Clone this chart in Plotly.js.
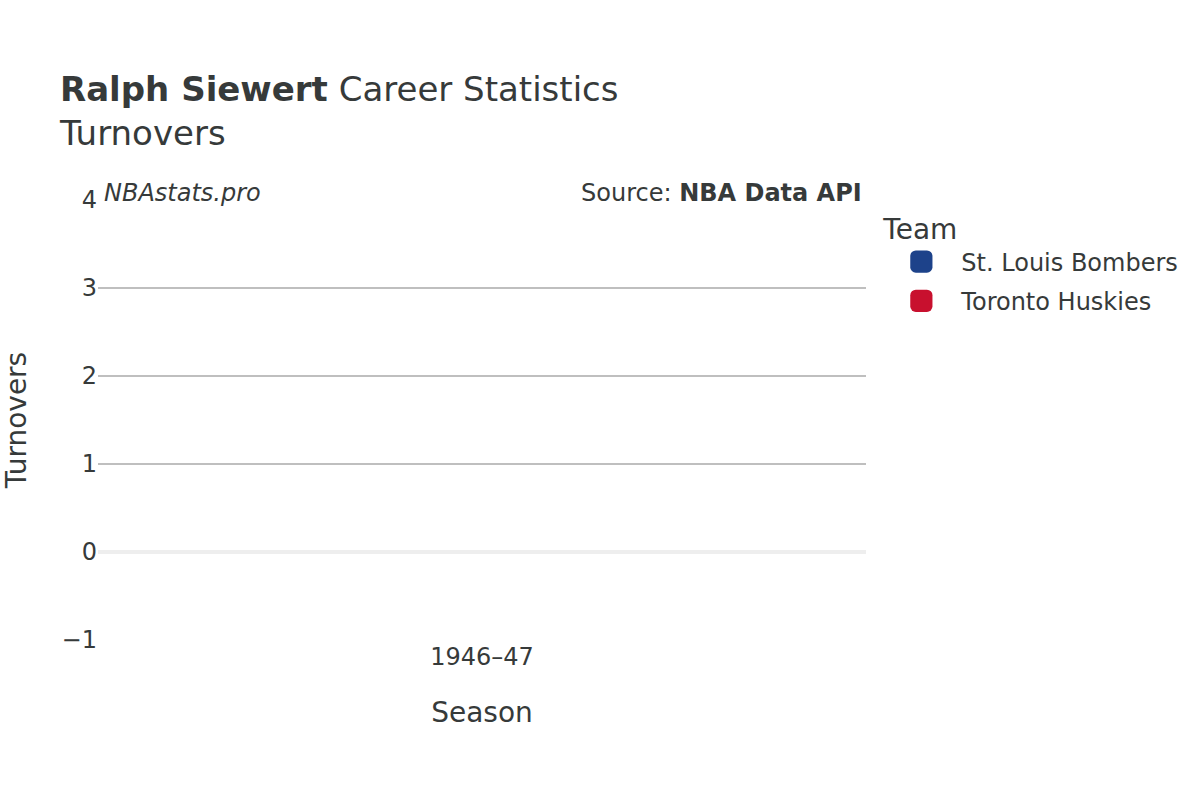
<!DOCTYPE html>
<html>
<head>
<meta charset="utf-8">
<script src="https://cdn.plot.ly/plotly-3.0.1.min.js"></script>
<style>
  body { margin: 0; background: #fff; }
  #graph { width: 1200px; height: 800px; }
</style>
</head>
<body>
<div id="graph"></div>
<script>
// data
var seasons = ['1946–47'];
var bombersTurnovers = [0];
var huskiesTurnovers = [0];

var fontFamily = 'DejaVu Sans, sans-serif';
var textColor = '#363a3a';

var trace1 = {
  x: seasons,
  y: bombersTurnovers,
  name: 'St. Louis Bombers',
  legendgroup: 'stl',
  type: 'bar',
  marker: { color: '#1d428a', cornerradius: 4 }
};

var trace2 = {
  x: seasons,
  y: huskiesTurnovers,
  name: 'Toronto Huskies',
  legendgroup: 'tor',
  type: 'bar',
  marker: { color: '#c8102e', cornerradius: 4 }
};

var layout = {
  width: 1200,
  height: 800,
  barmode: 'group',
  font: { family: fontFamily, color: textColor, size: 24 },
  paper_bgcolor: '#fff',
  plot_bgcolor: '#fff',
  margin: { l: 98, r: 334, t: 200, b: 160 },
  title: {
    text: '<b>Ralph Siewert</b> Career Statistics<br>Turnovers',
    font: { size: 34, color: textColor },
    x: 0.05,
    xanchor: 'left',
    xref: 'container',
    y: 0.874,
    yanchor: 'middle'
  },
  xaxis: {
    title: { text: 'Season', font: { size: 28 }, standoff: 32 },
    tickfont: { size: 24 },
    showgrid: false,
    ticks: ''
  },
  yaxis: {
    title: { text: 'Turnovers', font: { size: 28 }, standoff: 26 },
    range: [-1, 4],
    dtick: 1,
    tickfont: { size: 24 },
    gridcolor: '#bfbfbf',
    gridwidth: 2,
    zeroline: true,
    zerolinecolor: '#eeeeee',
    zerolinewidth: 4,
    ticks: ''
  },
  legend: {
    title: { text: 'Team', font: { size: 28 } },
    font: { size: 24 },
    x: 1.02,
    y: 0.993,
    itemwidth: 70,
    traceorder: 'grouped',
    tracegroupgap: 5
  },
  annotations: [
    {
      text: '<i>NBAstats.pro</i>',
      xref: 'paper', yref: 'paper',
      x: 0, y: 1, xanchor: 'left', yanchor: 'bottom',
      xshift: 4, yshift: -9,
      showarrow: false,
      font: { size: 24, color: textColor }
    },
    {
      text: 'Source: <b>NBA Data API</b>',
      xref: 'paper', yref: 'paper',
      x: 1, y: 1, xanchor: 'right', yanchor: 'bottom',
      xshift: -2, yshift: -9,
      showarrow: false,
      font: { size: 24, color: textColor }
    }
  ],
  showlegend: true
};

Plotly.newPlot('graph', [trace1, trace2], layout, { displayModeBar: false }).then(function (gd) {
  // bigger legend swatches, like the original
  gd.querySelectorAll('.legendpoints path').forEach(function (p) {
    var t = p.getAttribute('transform') || '';
    p.setAttribute('transform', t + ' scale(1.85)');
  });
});
</script>
</body>
</html>
